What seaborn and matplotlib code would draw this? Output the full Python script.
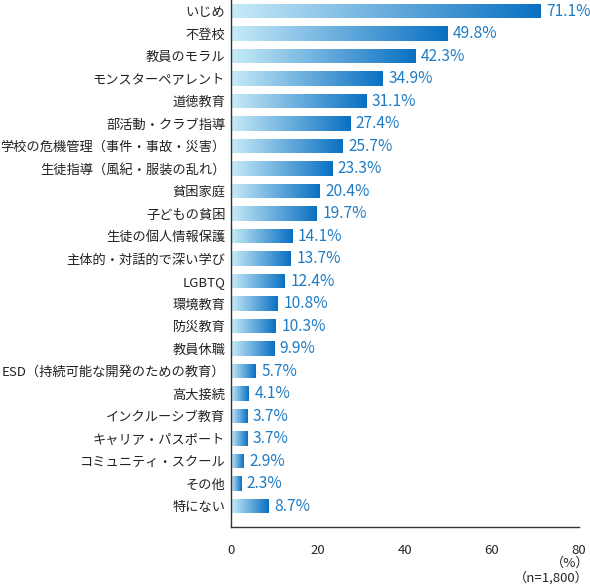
import numpy as np
import pandas as pd
import matplotlib
matplotlib.use("Agg")
import matplotlib.pyplot as plt
from matplotlib.colors import LinearSegmentedColormap
import seaborn as sns

categories = ["いじめ", "不登校", "教員のモラル", "モンスターペアレント", "道徳教育",
              "部活動・クラブ指導", "学校の危機管理（事件・事故・災害）", "生徒指導（風紀・服装の乱れ）",
              "貧困家庭", "子どもの貧困", "生徒の個人情報保護", "主体的・対話的で深い学び",
              "LGBTQ", "環境教育", "防災教育", "教員休職", "ESD（持続可能な開発のための教育）",
              "高大接続", "インクルーシブ教育", "キャリア・パスポート", "コミュニティ・スクール",
              "その他", "特にない"]
values = [71.1, 49.8, 42.3, 34.9, 31.1, 27.4, 25.7, 23.3, 20.4, 19.7, 14.1, 13.7,
          12.4, 10.8, 10.3, 9.9, 5.7, 4.1, 3.7, 3.7, 2.9, 2.3, 8.7]
xticks = [0, 20, 40, 60, 80]

sns.set_style("white")
plt.rcParams['font.family'] = ['Noto Sans CJK JP', 'DejaVu Sans']

df = pd.DataFrame({"cat": categories, "val": values})

fig = plt.figure(figsize=(5.9, 5.86), dpi=100)
ax = fig.add_axes([231/590, 1 - 527/586, (579 - 231)/590, 527/586])

sns.barplot(data=df, x="val", y="cat", orient="h", ax=ax, width=0.63,
            color="#3f8fd0", saturation=1)

cmap = LinearSegmentedColormap.from_list("g", ["#c8ebf8", "#0a70c2"])
grad = np.linspace(0, 1, 256).reshape(1, -1)
for p in list(ax.patches):
    x0, y0 = p.get_x(), p.get_y()
    w, h = p.get_width(), p.get_height()
    im = ax.imshow(grad, cmap=cmap, aspect="auto",
                   extent=[x0, x0 + w, y0 + h, y0], zorder=2, interpolation="bilinear")
    im.set_clip_path(p)
    p.set_facecolor("none")
    p.set_edgecolor("none")

for i, v in enumerate(values):
    ax.annotate(f"{v:.1f}%", xy=(v, i), xytext=(4, 0), textcoords="offset points",
                va="center", ha="left", color="#1f7cc4", fontsize=11.2)

ax.set_xlim(0, 80)
ax.set_ylim(22.93, -0.49)
ax.set_xticks(xticks)
ax.set_xticklabels([str(t) for t in xticks], fontsize=9.5)
ax.tick_params(axis="x", direction="in", length=6, width=1, color="#333333", pad=12)
ax.tick_params(axis="y", length=0, pad=4, labelsize=9.5)
for lbl in ax.get_yticklabels():
    lbl.set_color("#222222")
ax.set_xlabel("")
ax.set_ylabel("")
for s in ["top", "right"]:
    ax.spines[s].set_visible(False)
for s in ["left", "bottom"]:
    ax.spines[s].set_color("#333333")
    ax.spines[s].set_linewidth(1)

fig.text(589/590, 1 - 563/586, "（%）", ha="right", va="center", fontsize=9.5)
fig.text(589/590, 1 - 578/586, "（n=1,800）", ha="right", va="center", fontsize=9.5)

fig.savefig("out.png", dpi=100)
